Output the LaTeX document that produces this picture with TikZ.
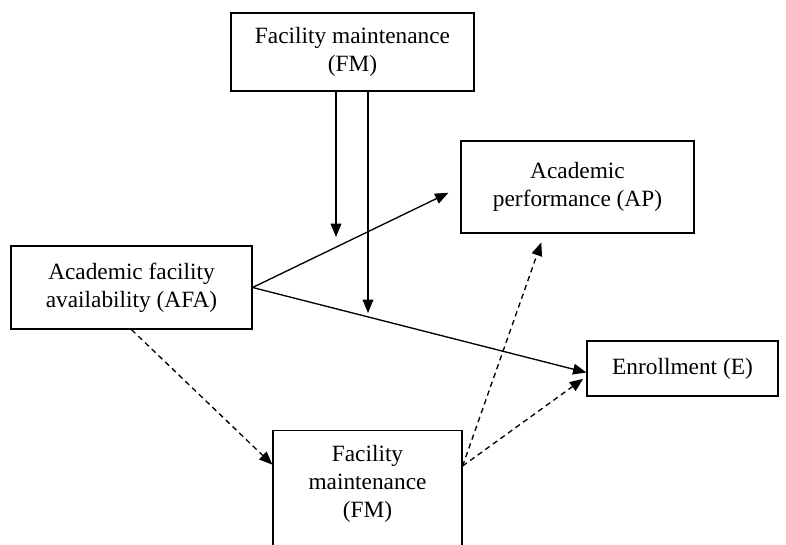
\documentclass[tikz,border=0pt]{standalone}
\usepackage{fontspec}
\setmainfont{Liberation Serif}
\usetikzlibrary{arrows.meta}

\tikzset{
  varbox/.style={draw, line width=0.9pt, align=center, inner sep=0pt,
    font=\fontsize{17.5}{21}\selectfont},
  link/.style={-{Triangle[length=10pt,width=8pt]}, line width=1pt},
  mediated/.style={link, dash pattern=on 4pt off 3pt}
}

\begin{document}
\begin{tikzpicture}[x=0.75pt,y=-0.75pt]
\useasboundingbox (0,0) rectangle (786,544);

% Moderator at the top
\node[varbox, minimum width=182.25pt, minimum height=58.5pt] (FMtop) at (352.5,52) {Facility maintenance\\(FM)};

% Outcomes
\node[varbox, minimum width=174.75pt, minimum height=69pt] (AP) at (577.5,187) {Academic\\performance (AP)};
\node[varbox, minimum width=143.25pt, minimum height=41.25pt] (E) at (682.5,368.5) {Enrollment (E)};

% Predictor
\node[varbox, minimum width=180.75pt, minimum height=62.25pt] (AFA) at (131.5,287.5) {Academic facility\\availability (AFA)};

% Mediator (box runs off the bottom)
\node[varbox, anchor=north, minimum width=141.75pt, minimum height=97.5pt] (FMbot) at (367.5,430) {};
\node[align=center, inner sep=0pt, font=\fontsize{17.5}{21}\selectfont] (FMbottext) at (367.5,484) {Facility\\maintenance\\(FM)};

% Direct paths
\draw[link, shorten >=10pt] (AFA.east) -- (AP.west);
\draw[link] (AFA.east) -- ([yshift=-3pt]E.west);

% Moderation
\coordinate (modAP) at (336,237);
\coordinate (modE) at (368,313);
\draw[link] (FMtop.south -| modAP) -- (modAP);
\draw[link] (FMtop.south -| modE) -- (modE);

% Indirect paths
\draw[mediated] (AFA.south) -- ([yshift=-26pt]FMbot.north west);
\draw[mediated, shorten >=7pt] ([yshift=-27pt]FMbot.north east) -- ([xshift=63pt]AP.south west);
\draw[mediated, shorten >=3pt] ([yshift=-27pt]FMbot.north east) -- ([yshift=-6pt]E.west);
\end{tikzpicture}
\end{document}
